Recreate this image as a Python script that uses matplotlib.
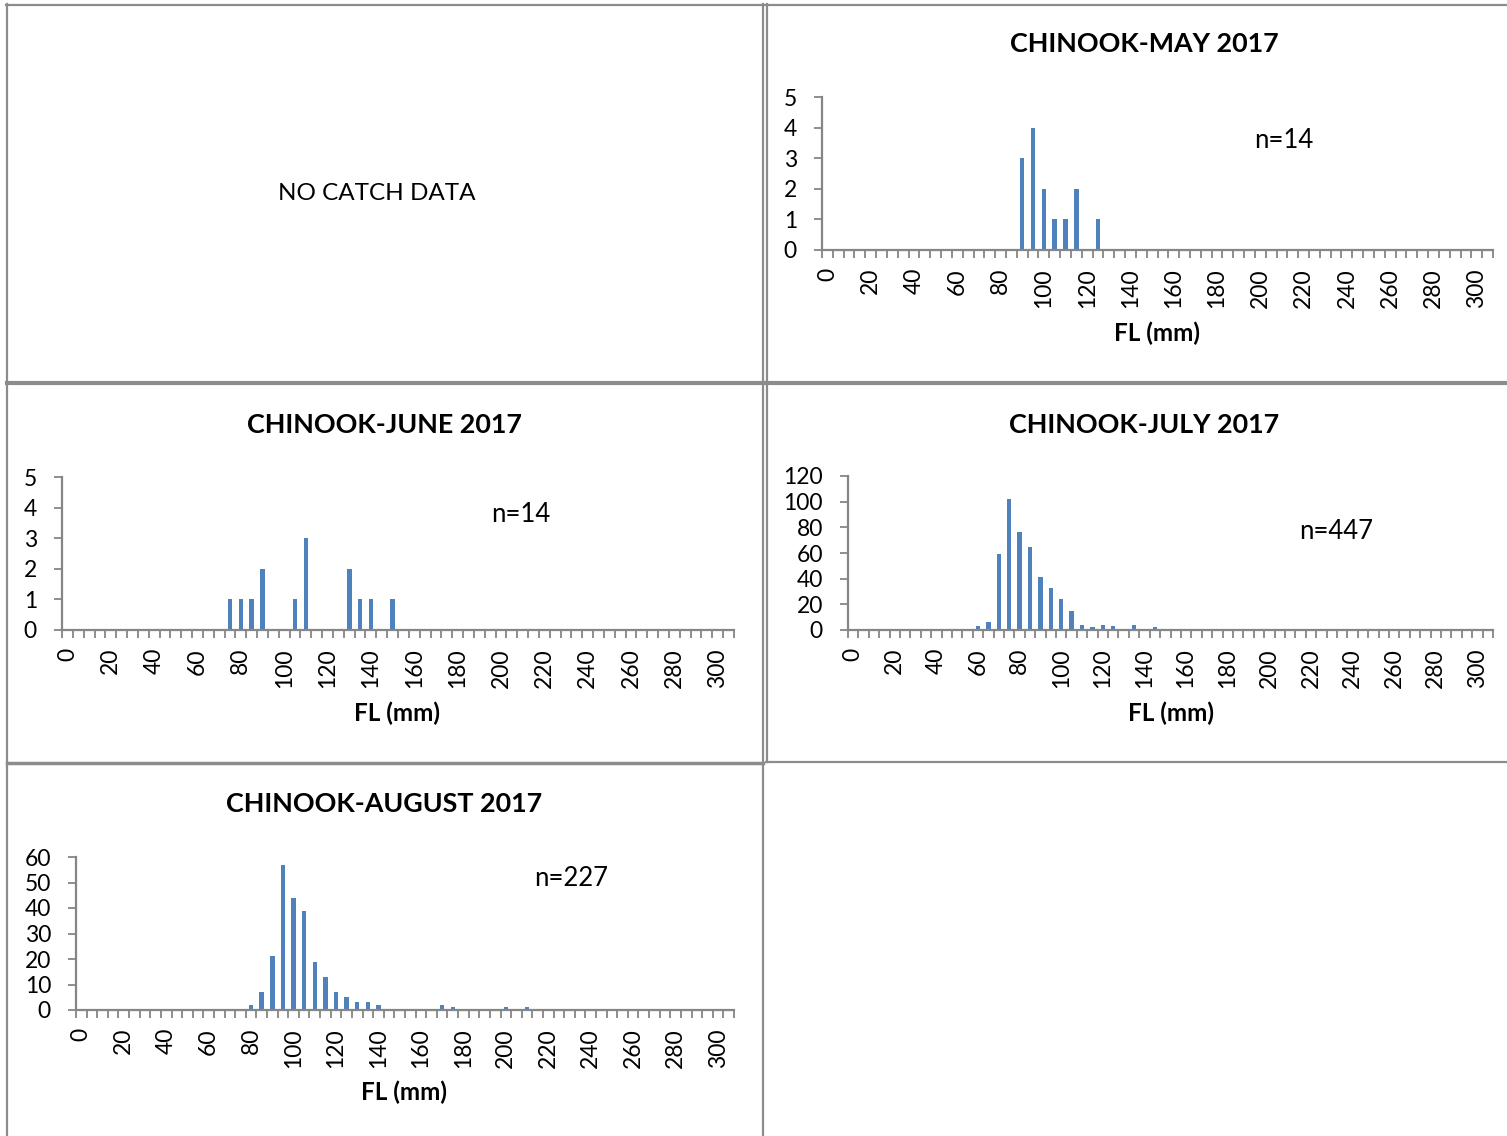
import matplotlib
matplotlib.use('Agg')
import matplotlib.pyplot as plt
from matplotlib.lines import Line2D
import numpy as np

plt.rcParams['font.family'] = ['Lato', 'DejaVu Sans']

# fork length bins (mm), one category every 5 mm
bins = list(range(0, 305, 5))

# counts, by bin
may_fl = [90, 95, 100, 105, 110, 115, 125]
may_n = [3, 4, 2, 1, 1, 2, 1]

june_fl = [75, 80, 85, 90, 105, 110, 130, 135, 140, 150]
june_n = [1, 1, 1, 2, 1, 3, 2, 1, 1, 1]

july_fl = [60, 65, 70, 75, 80, 85, 90, 95, 100, 105, 110, 115, 120, 125, 130,
           135, 140, 145, 165, 185]
july_n = [3, 6, 59, 102, 76, 65, 41, 33, 24, 15, 4, 2, 4, 3, 1, 4, 1, 2, 1, 1]

aug_fl = [80, 85, 90, 95, 100, 105, 110, 115, 120, 125, 130, 135, 140, 170,
          175, 200, 210]
aug_n = [2, 7, 21, 57, 44, 39, 19, 13, 7, 5, 3, 3, 2, 2, 1, 1, 1]

W, H = 1507, 1136
fig = plt.figure(figsize=(W / 100, H / 100), dpi=100, facecolor='w')

bar_col = '#4F81BD'
ax_col = '#868686'
grid_col = '#8c8c8c'


def px_rect(l, r, top, bottom):
    return [l / W, 1 - bottom / H, (r - l) / W, (bottom - top) / H]


def chart(rect, fl, n, ymax, ystep):
    ax = fig.add_axes(rect)
    counts = np.zeros(len(bins))
    for f, c in zip(fl, n):
        counts[bins.index(f)] = c
    idx = np.arange(len(bins))
    ax.bar(idx, counts, width=0.42, color=bar_col)
    ax.set_xlim(-0.5, len(bins) + 0.2)
    ax.set_ylim(0, ymax)
    ax.set_yticks(np.arange(0, ymax + ystep / 2, ystep))
    ax.set_xticks(idx[::4])
    ax.set_xticklabels([str(b) for b in bins[::4]], rotation=90)
    ax.set_xticks(np.arange(-0.5, len(bins) + 0.6, 1), minor=True)
    for s in ['top', 'right']:
        ax.spines[s].set_visible(False)
    for s in ['left', 'bottom']:
        ax.spines[s].set_color(ax_col)
        ax.spines[s].set_linewidth(1.6)
    ax.tick_params(axis='x', which='major', length=0, pad=13, labelsize=16.5)
    ax.tick_params(axis='x', which='minor', length=6, width=1.3, color=ax_col,
                   direction='out')
    ax.tick_params(axis='y', length=6, width=1.3, color=ax_col, pad=12,
                   labelsize=16.5, direction='out')
    return ax


def label(x, y, s, size, bold=False):
    fig.text(x / W, 1 - y / H, s, ha='center', va='center', fontsize=size,
             fontweight='bold' if bold else 'normal')


chart(px_rect(822, 1493, 97, 250), may_fl, may_n, 5, 1)
chart(px_rect(62, 734, 477, 630), june_fl, june_n, 5, 1)
chart(px_rect(848, 1493, 476, 630), july_fl, july_n, 120, 20)
chart(px_rect(76, 734, 857, 1010), aug_fl, aug_n, 60, 10)

label(377, 194, 'NO CATCH DATA', 17.5)

label(1144, 44, 'CHINOOK-MAY 2017', 19.4, True)
label(1284, 141, 'n=14', 18.5)
label(1157, 333, 'FL (mm)', 17.5, True)

label(384, 425, 'CHINOOK-JUNE 2017', 19.4, True)
label(521, 514, 'n=14', 18.5)
label(397, 713, 'FL (mm)', 17.5, True)

label(1144, 425, 'CHINOOK-JULY 2017', 19.4, True)
label(1336, 532, 'n=447', 18.5)
label(1171, 713, 'FL (mm)', 17.5, True)

label(384, 804, 'CHINOOK-AUGUST 2017', 19.4, True)
label(571, 878, 'n=227', 18.5)
label(404, 1092, 'FL (mm)', 17.5, True)


# table borders around the panels
def hline(y, x0, x1, lw=1.6):
    fig.add_artist(Line2D([x0 / W, x1 / W], [1 - y / H, 1 - y / H],
                          color=grid_col, lw=lw, transform=fig.transFigure))


def vline(x, y0, y1, lw=1.6):
    fig.add_artist(Line2D([x / W, x / W], [1 - y0 / H, 1 - y1 / H],
                          color=grid_col, lw=lw, transform=fig.transFigure))


hline(4.5, 6, W)
hline(383, 7, 763, lw=3)
hline(383, 766, W, lw=3)
hline(762.5, 7, 763, lw=2.5)
hline(761.5, 766, W, lw=1.6)
vline(7, 4, H)
vline(762.5, 4, H)
vline(766.5, 4, 762)

fig.savefig('out.png', dpi=100, facecolor='w')
